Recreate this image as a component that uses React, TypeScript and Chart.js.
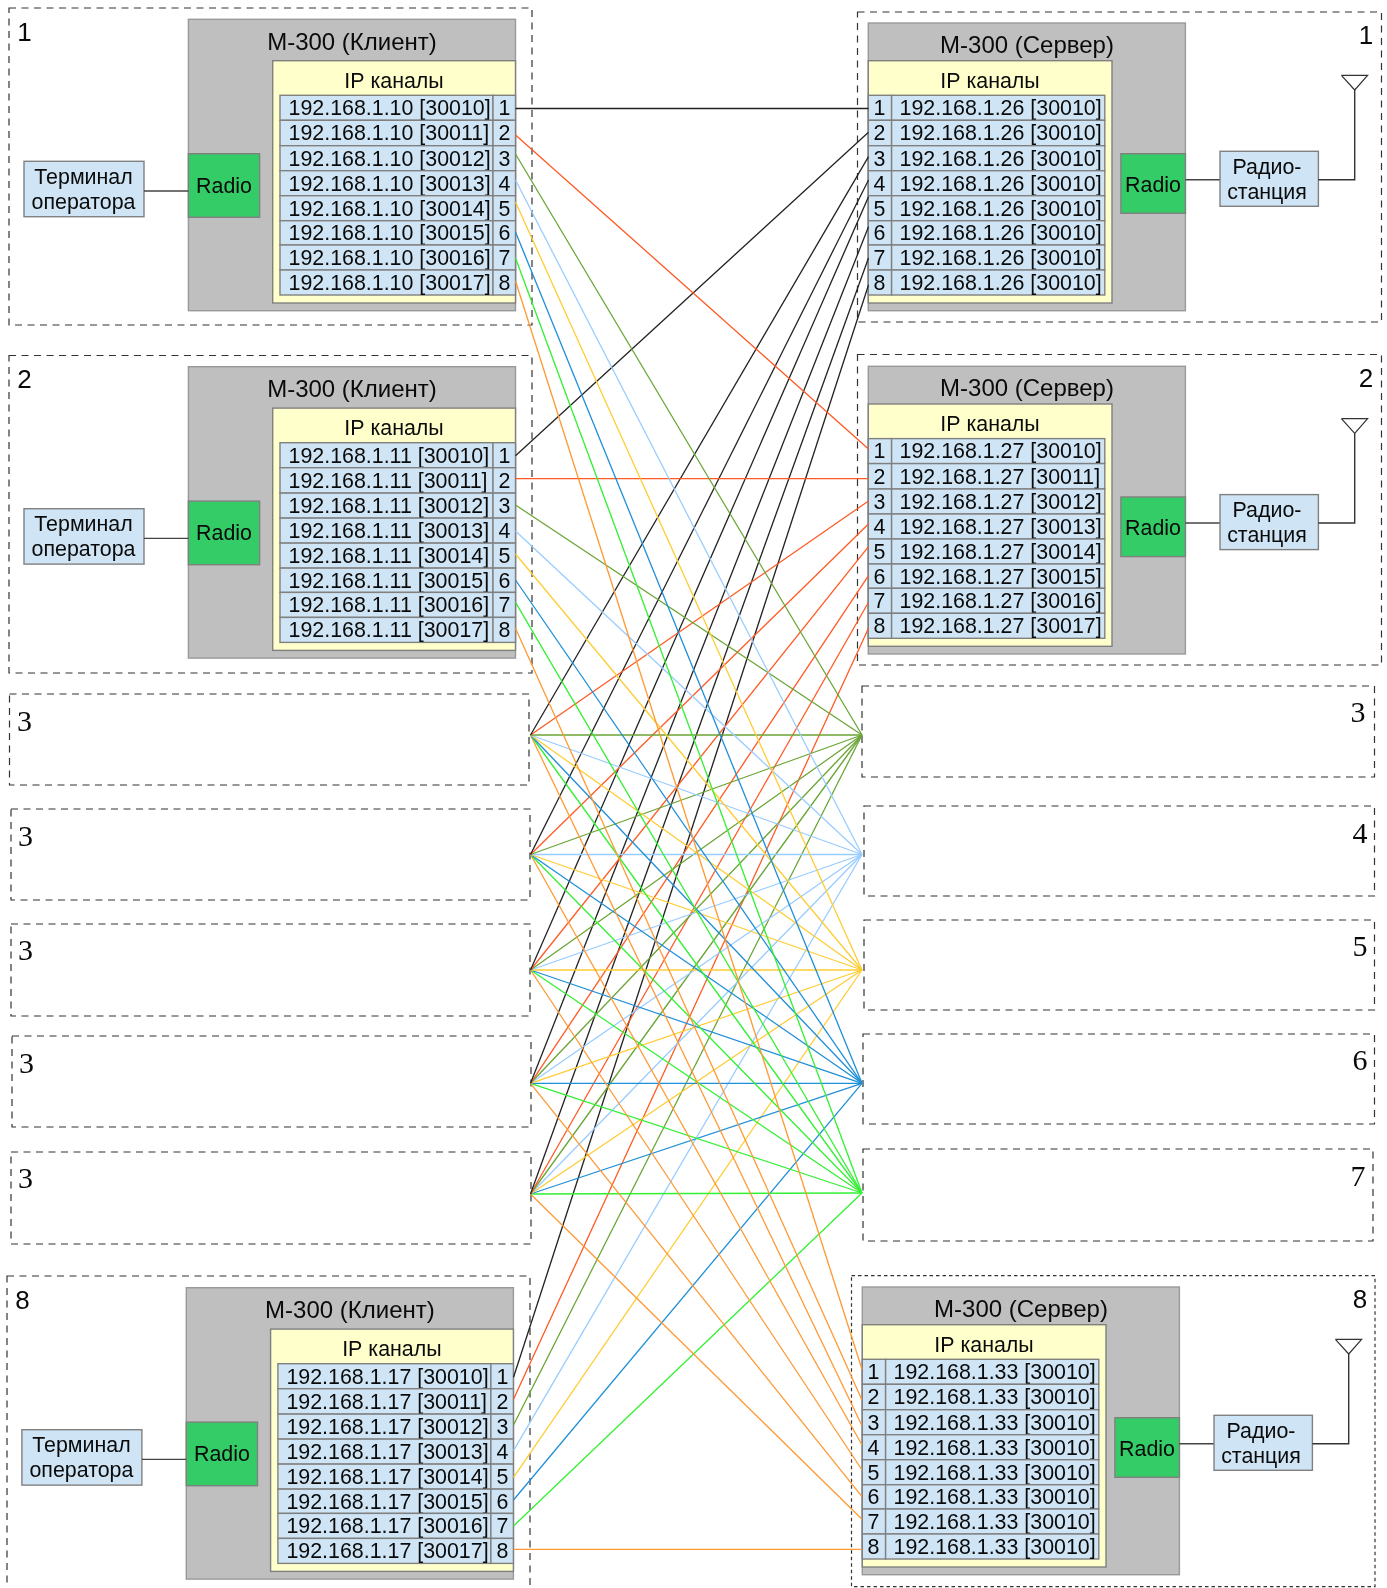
import React, { useEffect, useRef } from "react";
import { Chart, registerables } from "chart.js";

Chart.register(...registerables);

// ---------- content ----------
const clientIps = ["192.168.1.10", "192.168.1.11", "192.168.1.17"];
const clientPorts = ["30010", "30011", "30012", "30013", "30014", "30015", "30016", "30017"];
const server1Ports = ["30010", "30010", "30010", "30010", "30010", "30010", "30010", "30010"];
const server2Ports = ["30010", "30011", "30012", "30013", "30014", "30015", "30016", "30017"];
const server8Ports = ["30010", "30010", "30010", "30010", "30010", "30010", "30010", "30010"];
const channelNames = ["1", "2", "3", "4", "5", "6", "7", "8"];
const leftMiddleLabels = ["3", "3", "3", "3", "3"];
const rightMiddleLabels = ["3", "4", "5", "6", "7"];

// ---------- connection end points ----------
const client1PortY = [108.5, 135, 154, 180, 202, 232, 258, 281];
const client2PortY = [455.7, 478.7, 505, 531, 554, 580, 602.3, 628.3];
const client8PortY = [1377.3, 1399.3, 1425, 1450.7, 1477.3, 1500, 1526, 1549.3];
const server1PortY = [108.5, 132.3, 156.7, 180, 196.7, 226.7, 258, 285];
const server2PortY = [449, 478.7, 501, 524, 546.7, 575.7, 602.3, 628.3];
const server8PortY = [1369.3, 1400, 1425.7, 1445, 1470, 1496.7, 1519.3, 1549.3];
const leftHubY = [735, 854.5, 970, 1083.3, 1194];
const rightHubY = [735, 854.5, 970, 1083.3, 1193];
const channelColors = ["#222222", "#ff5a24", "#6aa535", "#99ccff", "#ffcc33", "#1f8fd8", "#33f033", "#ff9933"];

const X_CLIENT_1 = 515.5;
const X_CLIENT_8 = 513.5;
const X_SERVER_1 = 868.5;
const X_SERVER_8 = 862;
const X_HUB_L = 530.5;
const X_HUB_R = 862;

type Pt = { x: number; y: number };
const sourcePoint = (k: number, p: number): Pt => {
  if (k === 0) return { x: X_CLIENT_1, y: client1PortY[p] };
  if (k === 1) return { x: X_CLIENT_1, y: client2PortY[p] };
  if (k === 7) return { x: X_CLIENT_8, y: client8PortY[p] };
  return { x: X_HUB_L, y: leftHubY[k - 2] };
};
const destPoint = (p: number, k: number): Pt => {
  if (p === 0) return { x: X_SERVER_1, y: server1PortY[k] };
  if (p === 1) return { x: X_SERVER_1, y: server2PortY[k] };
  if (p === 7) return { x: X_SERVER_8, y: server8PortY[k] };
  return { x: X_HUB_R, y: rightHubY[p - 2] };
};

const linkDatasets: any[] = [];
channelNames.forEach((_, k) => {
  channelNames.forEach((__, p) => {
    linkDatasets.push({
      data: [sourcePoint(k, p), destPoint(p, k)],
      showLine: true,
      borderColor: channelColors[p],
      borderWidth: 1.3,
      pointRadius: 0,
      clip: false,
    });
  });
});

// ---------- styles ----------
const GRAY = "#bfbfbf";
const GRAY_EDGE = "#999999";
const CREAM = "#ffffcc";
const CELL = "#cfe5f5";
const EDGE = "#808080";
const GREEN = "#33cc66";
const INK = "#0a0a0a";
const SANS = "'Liberation Sans', Arial, sans-serif";
const SERIF = "'Liberation Serif', 'Times New Roman', serif";
const BODY = 21.4;

const rowEdges = [95.3, 120.3, 145.7, 170.7, 195.7, 220.7, 245, 270, 295];

const diagramPlugin = {
  id: "diagram",
  beforeDatasetsDraw(chart: any) {
    const ctx: CanvasRenderingContext2D = chart.ctx;
    const sx = chart.scales.x;
    const sy = chart.scales.y;
    const X = (v: number) => sx.getPixelForValue(v);
    const Y = (v: number) => sy.getPixelForValue(v);

    const rect = (x0: number, y0: number, x1: number, y1: number, fill: string | null, stroke: string, lw = 1.4, dash: number[] = []) => {
      ctx.save();
      ctx.setLineDash(dash);
      ctx.lineWidth = lw;
      ctx.strokeStyle = stroke;
      if (fill) {
        ctx.fillStyle = fill;
        ctx.fillRect(X(x0), Y(y0), X(x1) - X(x0), Y(y1) - Y(y0));
      }
      ctx.strokeRect(X(x0), Y(y0), X(x1) - X(x0), Y(y1) - Y(y0));
      ctx.restore();
    };
    const line = (pts: number[][], color = "#444444", lw = 1.4) => {
      ctx.save();
      ctx.strokeStyle = color;
      ctx.lineWidth = lw;
      ctx.beginPath();
      pts.forEach(([a, b], i) => (i ? ctx.lineTo(X(a), Y(b)) : ctx.moveTo(X(a), Y(b))));
      ctx.stroke();
      ctx.restore();
    };
    const text = (s: string, x: number, y: number, size: number, align: CanvasTextAlign = "center", family = SANS) => {
      ctx.save();
      ctx.fillStyle = INK;
      ctx.font = `${size}px ${family}`;
      ctx.textAlign = align;
      ctx.textBaseline = "middle";
      ctx.fillText(s, X(x), Y(y));
      ctx.restore();
    };

    const DASH = [7, 5.5];
    const dashed = (x0: number, y0: number, x1: number, y1: number, d = DASH) => rect(x0, y0, x1, y1, null, "#333333", 1.2, d);

    const client = (dx: number, dy: number, label: string, ip: string) => {
      rect(188.4 + dx, 19.3 + dy, 515.5 + dx, 310.7 + dy, GRAY, GRAY_EDGE);
      text("М-300 (Клиент)", 352 + dx, 43 + dy, 24);
      rect(272.7 + dx, 60.7 + dy, 515.5 + dx, 303 + dy, CREAM, EDGE);
      text("IP каналы", 394 + dx, 82 + dy, BODY);
      for (let i = 0; i < 8; i++) {
        const a = rowEdges[i] + dy;
        const b = rowEdges[i + 1] + dy;
        rect(280 + dx, a, 493 + dx, b, CELL, EDGE);
        rect(493 + dx, a, 515.5 + dx, b, CELL, EDGE);
        text(`${ip} [${clientPorts[i]}]`, 288.5 + dx, (a + b) / 2 + 1.5, BODY, "left");
        text(channelNames[i], 504.5 + dx, (a + b) / 2 + 1.5, BODY);
      }
      rect(188.4 + dx, 153.7 + dy, 259.6 + dx, 217.3 + dy, GREEN, EDGE);
      text("Radio", 224 + dx, 187 + dy, BODY);
      rect(24 + dx, 161.3 + dy, 144 + dx, 216.7 + dy, CELL, EDGE);
      text("Терминал", 83.5 + dx, 178 + dy, BODY);
      text("оператора", 83.5 + dx, 203 + dy, BODY);
      line([[144 + dx, 191 + dy], [188.4 + dx, 191 + dy]]);
      text(label, 24.5 + dx, 33.5 + dy, 26);
    };

    const server = (dx: number, dy: number, label: string, ip: string, ports: string[]) => {
      rect(868.3 + dx, 23 + dy, 1185.4 + dx, 310.7 + dy, GRAY, GRAY_EDGE);
      text("М-300 (Сервер)", 1027 + dx, 46 + dy, 24);
      rect(868.3 + dx, 60.7 + dy, 1112 + dx, 303 + dy, CREAM, EDGE);
      text("IP каналы", 990 + dx, 82 + dy, BODY);
      for (let i = 0; i < 8; i++) {
        const a = rowEdges[i] + dy;
        const b = rowEdges[i + 1] + dy;
        rect(868.3 + dx, a, 891.6 + dx, b, CELL, EDGE);
        rect(891.6 + dx, a, 1104.8 + dx, b, CELL, EDGE);
        text(channelNames[i], 879.5 + dx, (a + b) / 2 + 1.5, BODY);
        text(`${ip} [${ports[i]}]`, 899.5 + dx, (a + b) / 2 + 1.5, BODY, "left");
      }
      rect(1120.9 + dx, 153.7 + dy, 1185.4 + dx, 213.3 + dy, GREEN, EDGE);
      text("Radio", 1153 + dx, 186 + dy, BODY);
      line([[1185.4 + dx, 179.7 + dy], [1220 + dx, 179.7 + dy]]);
      rect(1220 + dx, 151.3 + dy, 1318.4 + dx, 206.3 + dy, CELL, EDGE);
      text("Радио-", 1267 + dx, 167.7 + dy, BODY);
      text("станция", 1267 + dx, 193.3 + dy, BODY);
      line([[1318.4 + dx, 179.7 + dy], [1354.7 + dx, 179.7 + dy], [1354.7 + dx, 90 + dy]], "#333333");
      line([[1341.4 + dx, 75.3 + dy], [1367.6 + dx, 75.3 + dy], [1354.7 + dx, 90 + dy], [1341.4 + dx, 75.3 + dy]], "#333333", 1.2);
      text(label, 1366 + dx, 37 + dy, 26);
    };

    // outer dashed frames
    dashed(9, 8, 532, 325);
    dashed(9, 355.5, 532, 673);
    dashed(7, 1276, 530, 1600);
    dashed(857.5, 12, 1381.5, 322);
    dashed(857.5, 354.5, 1381.5, 665);
    dashed(851.5, 1275.7, 1375, 1586.7, [3.5, 3]);

    // empty middle frames
    const leftFrames = [[9.5, 694, 529, 785], [11, 809, 530, 900], [11, 924, 530, 1016], [12, 1036, 531, 1127], [11, 1152, 531, 1244]];
    const rightFrames = [[862, 686, 1374.5, 777], [864, 806, 1374.5, 896], [864, 920, 1374.5, 1010], [863, 1034, 1374.5, 1124], [863, 1149, 1373, 1241]];
    leftFrames.forEach((f) => dashed(f[0], f[1], f[2], f[3]));
    rightFrames.forEach((f) => dashed(f[0], f[1], f[2], f[3]));
    const leftLabelPos = [[24.5, 723], [25.5, 838], [25.5, 952], [26.5, 1065], [25.5, 1180]];
    const rightLabelPos = [[1358, 714.5], [1360, 835], [1360, 948], [1360, 1062], [1358, 1178]];
    leftMiddleLabels.forEach((s, i) => text(s, leftLabelPos[i][0], leftLabelPos[i][1], 30, "center", SERIF));
    rightMiddleLabels.forEach((s, i) => text(s, rightLabelPos[i][0], rightLabelPos[i][1], 30, "center", SERIF));

    client(0, 0, "1", clientIps[0]);
    client(0, 347.4, "2", clientIps[1]);
    client(-2.1, 1268.4, "8", clientIps[2]);
    server(0, 0, "1", "192.168.1.26", server1Ports);
    server(0, 343.3, "2", "192.168.1.27", server2Ports);
    server(-6, 1264, "8", "192.168.1.33", server8Ports);
  },
};

export default function App() {
  const ref = useRef<HTMLCanvasElement>(null);
  useEffect(() => {
    const chart = new Chart(ref.current as HTMLCanvasElement, {
      type: "scatter",
      data: { datasets: linkDatasets },
      options: {
        animation: false,
        responsive: false,
        devicePixelRatio: 1,
        layout: { padding: 0 },
        plugins: { legend: { display: false }, tooltip: { enabled: false }, title: { display: false } },
        scales: {
          x: { type: "linear", min: 0, max: 1387, display: false },
          y: { type: "linear", min: 0, max: 1588, reverse: true, display: false },
        },
      },
      plugins: [diagramPlugin],
    } as any);
    return () => chart.destroy();
  }, []);
  return (
    <canvas
      ref={ref}
      width={1387}
      height={1588}
      style={{ position: "absolute", left: 0, top: 0, width: 1387, height: 1588, background: "#ffffff" }}
    />
  );
}
